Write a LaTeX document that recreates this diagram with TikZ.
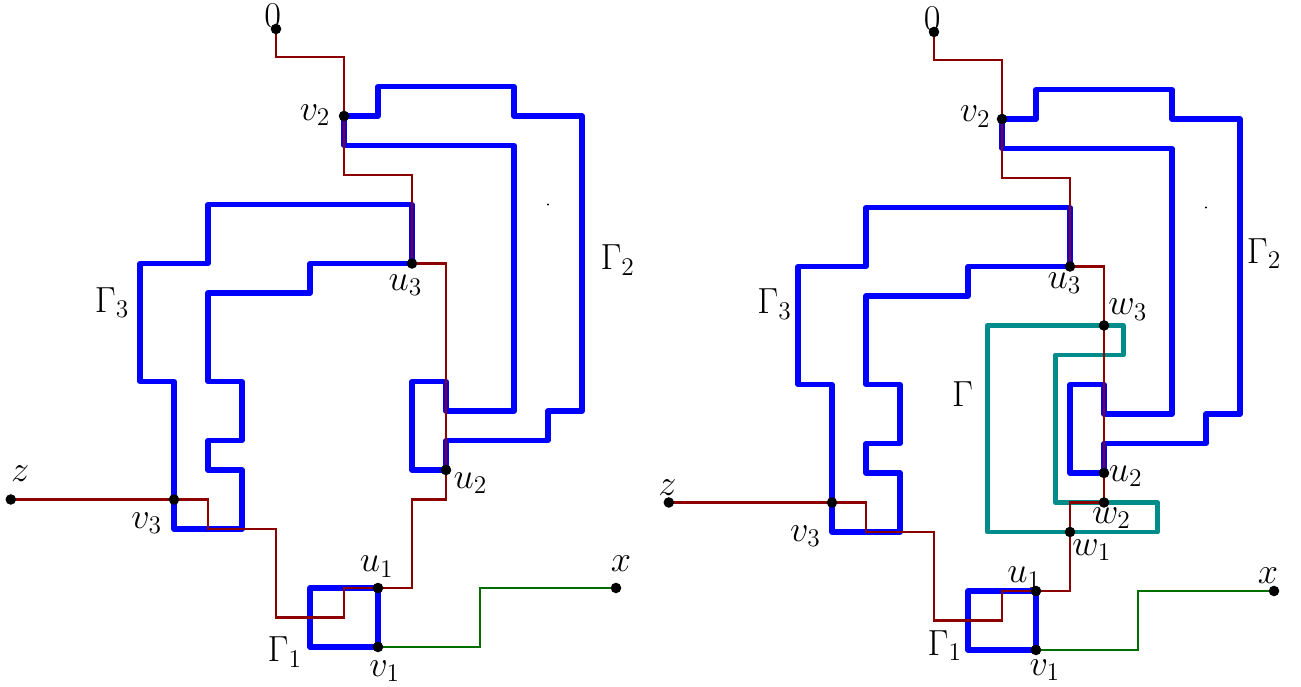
\RequirePackage{fix-cm}
\documentclass[tikz,border=0pt]{standalone}
\usepackage{tikz}

\definecolor{walkred}{RGB}{140,0,0}
\definecolor{walkgreen}{RGB}{0,110,0}
\definecolor{contteal}{RGB}{0,140,138}

\tikzset{
  gam/.style={blue, line width=2.7pt, line join=round},
  cont/.style={contteal, line width=2.5pt, line join=round},
  walk/.style={walkred, line width=1.1pt},
  walkx/.style={walkgreen, line width=1.1pt},
  vtx/.style={circle, fill=black, inner sep=0pt, minimum size=5.4pt},
  lab/.style={anchor=base, inner sep=0.5pt, font=\fontsize{18.6}{22}\selectfont}
}

% the three blue contours, the same in both pictures
\newcommand{\contours}{%
  \draw[gam] (6,18) -- (7,18) -- (7,19) -- (11,19) -- (11,18) -- (13,18) -- (13,8) -- (12,8) -- (12,7) -- (9,7) -- (9,6) -- (8,6) -- (8,9) -- (9,9) -- (9,8) -- (11,8) -- (11,17) -- (6,17) -- cycle;
  \draw[gam] (8,13) -- (5,13) -- (5,12) -- (2,12) -- (2,9) -- (3,9) -- (3,7) -- (2,7) -- (2,6) -- (3,6) -- (3,4) -- (1,4) -- (1,9) -- (0,9) -- (0,13) -- (2,13) -- (2,15) -- (8,15) -- cycle;
  \draw[gam] (5,0) rectangle (7,2);
  \fill (12,15) circle (0.6pt);
}

\begin{document}
\begin{tikzpicture}[x=0.612cm, y=0.531cm]
\useasboundingbox (-2.52cm,-0.72cm) rectangle (20.898cm,11.646cm);

% left picture
\begin{scope}
\contours
\coordinate (o) at (4,20.95); \coordinate (v2) at (6,18); \coordinate (u3) at (8,13);
\coordinate (u2) at (9,6); \coordinate (u1) at (7,2); \coordinate (v1) at (7,0);
\coordinate (v3) at (1,5); \coordinate (z) at (-3.8,5); \coordinate (x) at (14,2);
\draw[walk] (o) |- (6,20) -- (v2) |- (8,16) -- (u3) -| (u2) |- (8,5) |- (u1) -- (6,2) |- (4,1) |- (2,4) |- (v3) -- (z);
\draw[walkx] (v1) -| (10,2) -- (x);
\foreach \p in {o,v2,u3,u2,u1,v1,v3,z,x} \node[vtx] (d\p) at (\p) {};
\node[lab] (l0) at (3.90,21.0) {$0$};
\node[lab] (lv2) at (5.15,17.86) {$v_2$};
\node[lab] (lu3) at (7.81,12.1) {$u_3$};
\node[lab] (lg3) at (-0.82,11.35) {$\Gamma_3$};
\node[lab] (lg2) at (14.05,12.78) {$\Gamma_2$};
\node[lab] (lz) at (-3.52,5.6) {$z$};
\node[lab] (lv3) at (0.2,4.02) {$v_3$};
\node[lab] (lu2) at (9.72,5.38) {$u_2$};
\node[lab] (lu1) at (6.96,2.55) {$u_1$};
\node[lab] (lx) at (14.15,2.55) {$x$};
\node[lab] (lg1) at (4.26,-0.5) {$\Gamma_1$};
\node[lab] (lv1) at (7.2,-1.0) {$v_1$};
\end{scope}

% right picture, with the contour Gamma
\begin{scope}[shift={(11.844cm,-0.054cm)}]
\contours
\draw[cont] (5.57,11) -- (9.57,11) -- (9.57,10) -- (7.57,10) -- (7.57,5) -- (10.57,5) -- (10.57,4) -- (5.57,4) -- cycle;
\coordinate (o) at (4,20.95); \coordinate (v2) at (6,18); \coordinate (u3) at (8,13);
\coordinate (w3) at (9,11); \coordinate (u2) at (9,6); \coordinate (w2) at (9,5);
\coordinate (w1) at (8,4); \coordinate (u1) at (7,2); \coordinate (v1) at (7,0);
\coordinate (v3) at (1,5); \coordinate (z) at (-3.8,5); \coordinate (x) at (14,2);
\draw[walk] (o) |- (6,20) -- (v2) |- (8,16) -- (u3) -| (w3) -- (u2) -- (w2) -| (w1) |- (u1) -- (6,2) |- (4,1) |- (2,4) |- (v3) -- (z);
\draw[walkx] (v1) -| (10,2) -- (x);
\foreach \p in {o,v2,u3,w3,u2,w2,w1,u1,v1,v3,z,x} \node[vtx] (d\p) at (\p) {};
\node[lab] (l0) at (3.95,21.0) {$0$};
\node[lab] (lv2) at (5.21,17.9) {$v_2$};
\node[lab] (lu3) at (7.84,12.26) {$u_3$};
\node[lab] (lw3) at (9.7,11.36) {$w_3$};
\node[lab] (lg3) at (-0.69,11.4) {$\Gamma_3$};
\node[lab] (lg2) at (13.71,13.1) {$\Gamma_2$};
\node[lab] (lg) at (4.84,8.25) {$\Gamma$};
\node[lab] (lu2) at (9.64,5.71) {$u_2$};
\node[lab] (lw2) at (9.22,4.29) {$w_2$};
\node[lab] (lw1) at (8.64,3.22) {$w_1$};
\node[lab] (lz) at (-3.84,5.25) {$z$};
\node[lab] (lv3) at (0.22,3.69) {$v_3$};
\node[lab] (lu1) at (6.65,2.28) {$u_1$};
\node[lab] (lx) at (13.82,2.26) {$x$};
\node[lab] (lg1) at (4.32,-0.17) {$\Gamma_1$};
\node[lab] (lv1) at (7.26,-0.85) {$v_1$};
\end{scope}
\end{tikzpicture}
\end{document}
